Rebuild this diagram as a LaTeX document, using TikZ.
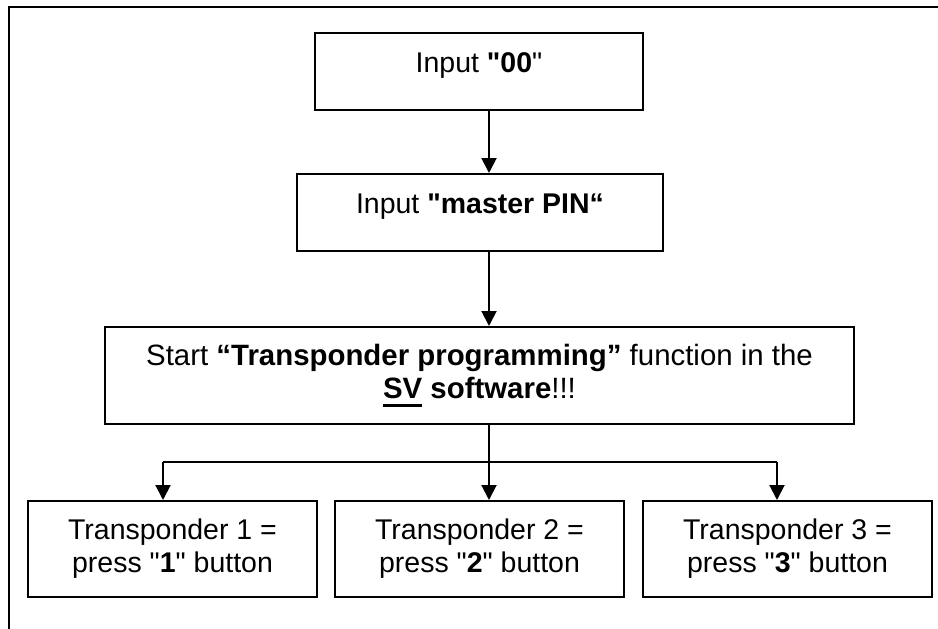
\documentclass[tikz,border=0pt]{standalone}
\usepackage{fontspec}
\setmainfont{Liberation Sans}[Ligatures=TeXOff]
\usetikzlibrary{arrows.meta}

\newcommand{\ulword}[1]{\setbox0\hbox{#1}\rlap{\rule[-8pt]{\wd0}{3pt}}\box0\relax}

\begin{document}
\begin{tikzpicture}[x=1pt,y=-1pt,>={Triangle[length=15pt,width=15pt]},line width=2pt,
    every node/.style={font=\fontsize{28.5}{33}\selectfont},
    inputbox/.style={draw,inner sep=0pt,text height=39pt,text depth=38pt},
    startbox/.style={draw,inner sep=0pt,align=center,minimum width=749pt,minimum height=97pt,
      font=\fontsize{29.4}{33}\selectfont},
    keybox/.style={draw,inner sep=0pt,align=center,minimum width=289pt,minimum height=96pt}]

      \useasboundingbox (0,0) rectangle (938,629);
      \coordinate (frameB) at (9,629);
      \coordinate (frameC) at (9,7);
      \coordinate (frameR) at (938,7);
      \draw (frameB) -- (frameC) -- (frameR);

      \node (in00) [inputbox,minimum width=328pt] at (479,71.5) {Input \textbf{"00}"};
      \node (pin) [inputbox,minimum width=366pt] at (480,212.5) {Input \textbf{"master PIN“}};
      \node (start) [startbox] at (479.5,375.5)
        {Start \textbf{“Transponder programming”} function in the\\\textbf{\ulword{SV} software}!!!};
      \node (key1) [keybox] at (172.5,549) {Transponder 1 =\\press "\textbf{1}" button};
      \node (key2) [keybox] at (479.5,549) {Transponder 2 =\\press "\textbf{2}" button};
      \node (key3) [keybox] at (787.5,549) {Transponder 3 =\\press "\textbf{3}" button};

      \coordinate (spine) at (489,462);
      \coordinate (forkL) at (163,462);
      \coordinate (forkR) at (777,462);

      \draw[->] (in00.south -| spine) -- (pin.north -| spine);
      \draw[->] (pin.south -| spine) -- (start.north -| spine);
      \draw (start.south -| spine) -- (spine);
      \draw[->] (spine) -- (key2.north -| spine);
      \draw (forkL) -- (forkR);
      \draw[->] (forkL) -- (key1.north -| forkL);
      \draw[->] (forkR) -- (key3.north -| forkR);
    \end{tikzpicture}
\end{document}
